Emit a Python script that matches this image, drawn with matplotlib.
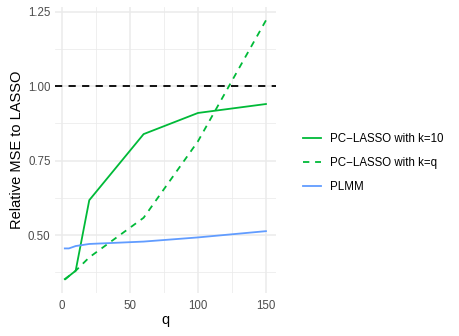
import numpy as np
import matplotlib
matplotlib.use('Agg')
import matplotlib.pyplot as plt
from matplotlib.ticker import FixedLocator

plt.rcParams['font.family'] = ['Liberation Sans', 'DejaVu Sans']

# Data
q = [2, 5, 10, 20, 60, 100, 150]
pc_lasso_k10 = [0.352, 0.362, 0.380, 0.617, 0.839, 0.910, 0.940]
pc_lasso_kq = [0.350, 0.362, 0.380, 0.425, 0.558, 0.815, 1.221]
plmm = [0.455, 0.455, 0.463, 0.470, 0.478, 0.492, 0.513]

GREEN = '#00BA38'
BLUE = '#619CFF'
GRID = '#EBEBEB'

fig = plt.figure(figsize=(4.6, 3.36), dpi=100)
ax = fig.add_axes([0.119, 0.129, 0.481, 0.849])

ax.plot(q, pc_lasso_k10, color=GREEN, linewidth=1.3, label='PC\u2212LASSO with k=10')
ax.plot(q, pc_lasso_kq, color=GREEN, linewidth=1.3, linestyle=(0, (3.5, 3.2)),
        label='PC\u2212LASSO with k=q')
ax.plot(q, plmm, color=BLUE, linewidth=1.3, label='PLMM')
ax.axhline(1.0, color='black', linewidth=1.3, linestyle=(0, (4, 3.5)))

# ggplot-like expansion
xr = max(q) - min(q)
ax.set_xlim(min(q) - 0.05 * xr, max(q) + 0.05 * xr)
ymin = min(pc_lasso_kq)
ymax = max(pc_lasso_kq)
yr = ymax - ymin
ax.set_ylim(ymin - 0.05 * yr, ymax + 0.05 * yr)

ax.set_xticks([0, 50, 100, 150])
ax.set_yticks([0.50, 0.75, 1.00, 1.25])
ax.set_yticklabels(['0.50', '0.75', '1.00', '1.25'])
ax.xaxis.set_minor_locator(FixedLocator([25, 75, 125]))
ax.yaxis.set_minor_locator(FixedLocator([0.375, 0.625, 0.875, 1.125]))

ax.grid(which='major', color=GRID, linewidth=1.1)
ax.grid(which='minor', color=GRID, linewidth=0.55)
ax.set_axisbelow(True)
for s in ax.spines.values():
    s.set_visible(False)
ax.tick_params(which='both', length=0, labelsize=8.3, labelcolor='#4D4D4D')
ax.tick_params(axis='x', pad=5)
ax.tick_params(axis='y', pad=3)

ax.set_xlabel('q', fontsize=10.5, labelpad=1)
ax.set_ylabel('Relative MSE to LASSO', fontsize=10.5, labelpad=3)

fig.legend(loc='center left', bbox_to_anchor=(0.637, 0.515), frameon=False,
           fontsize=8.3, handlelength=1.5, handletextpad=0.8, labelspacing=1.05)

fig.savefig('out.png', dpi=100)
